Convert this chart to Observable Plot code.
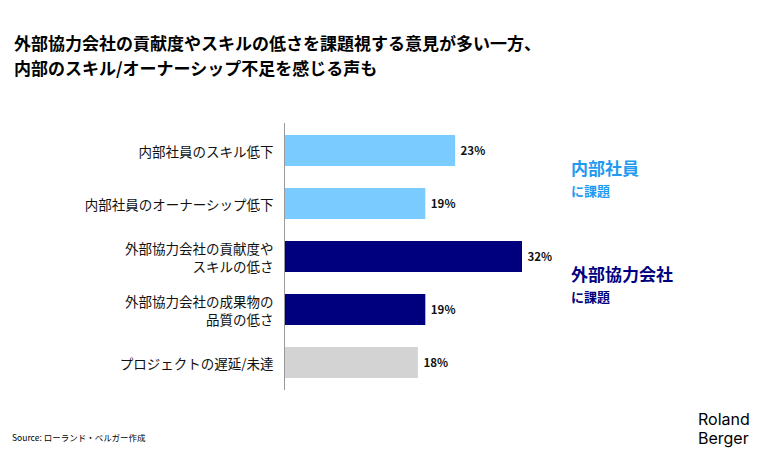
<!DOCTYPE html>
<html><head><meta charset="utf-8">
<script src="https://cdn.jsdelivr.net/npm/d3@7"></script>
<script src="https://cdn.jsdelivr.net/npm/@observablehq/plot@0.6"></script>
<style>
html,body{margin:0;padding:0;background:#fff;}
#wrap{position:relative;width:768px;height:464px;overflow:hidden;font-family:"Noto Sans CJK JP","Noto Sans",sans-serif;}
#title{position:absolute;left:14px;top:30px;font-size:17px;font-weight:700;line-height:25px;color:#000;}
#chart{position:absolute;left:0;top:100px;}
.ann{position:absolute;left:571px;font-weight:700;line-height:1;}
#src{position:absolute;left:12px;top:431px;font-size:8.5px;color:#000;}
#logo{position:absolute;left:698px;top:410px;font-family:"Inter","Roboto",sans-serif;font-size:16px;line-height:19px;color:#000;font-weight:400;}
</style></head>
<body><div id="wrap">
<div id="title">外部協力会社の貢献度やスキルの低さを課題視する意見が多い一方、<br>内部のスキル/オーナーシップ不足を感じる声も</div>
<div id="chart"></div>
<div class="ann" style="top:159px;font-size:17px;color:#1E9BF0">内部社員</div>
<div class="ann" style="top:184px;font-size:13px;color:#1E9BF0">に課題</div>
<div class="ann" style="top:265px;font-size:17px;color:#00007F">外部協力会社</div>
<div class="ann" style="top:290px;font-size:13px;color:#00007F">に課題</div>
<div id="src">Source: ローランド・ベルガー作成</div>
<div id="logo">Roland<br>Berger</div>
</div>
<script>
const categories = ["内部社員のスキル低下","内部社員のオーナーシップ低下","外部協力会社の貢献度や\nスキルの低さ","外部協力会社の成果物の\n品質の低さ","プロジェクトの遅延/未達"];
const values = [23, 19, 32, 19, 18];
const groups = ["内部社員","内部社員","外部協力会社","外部協力会社","その他"];
const groupColors = {"内部社員":"#7ACBFF","外部協力会社":"#00007F","その他":"#D3D3D3"};

const data = categories.map((c,i)=>({cat:c, v:values[i], g:groups[i]}));

const chart = Plot.plot({
  width:768, height:310,
  marginLeft:284, marginRight:246, marginTop:23, marginBottom:20,
  style:{fontFamily:'"Noto Sans CJK JP","Noto Sans",sans-serif', background:"transparent"},
  x:{domain:[0,32], axis:null},
  y:{domain:categories, paddingInner:0.42, paddingOuter:0.2, label:null},
  color:{domain:Object.keys(groupColors), range:Object.values(groupColors)},
  marks:[
    Plot.barX(data,{x:"v", y:"cat", fill:"g"}),
    Plot.ruleX([0],{stroke:"#9a9a9a", strokeWidth:1}),
    Plot.axisY({tickSize:0, tickPadding:11, fontSize:13.5, lineHeight:1.35, fill:"#111", label:null}),
    Plot.text(data,{x:"v", y:"cat", text:d=>d.v+"%", textAnchor:"start", dx:5, fontSize:11.5, fontWeight:"bold", fill:"#111"})
  ]
});
document.getElementById("chart").appendChild(chart);
</script>
</body></html>
